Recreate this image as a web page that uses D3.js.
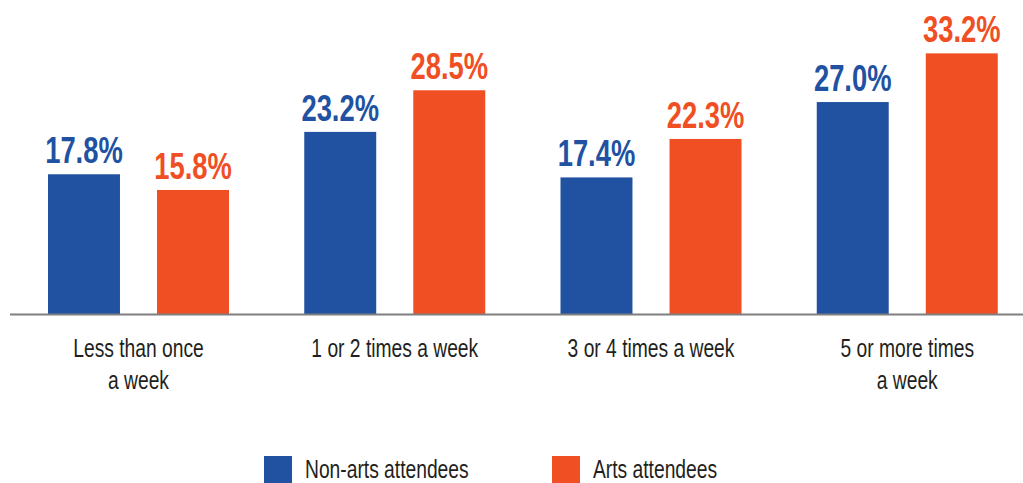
<!DOCTYPE html>
<html>
<head>
<meta charset="utf-8">
<script src="https://cdn.jsdelivr.net/npm/d3@7"></script>
<style>
  body { margin: 0; background: #fff; }
  svg { display: block; font-family: "Liberation Sans", Arial, sans-serif; }
</style>
</head>
<body>
<div id="chart"></div>
<script>
// chart data
const categories = ["Less than once|a week", "1 or 2 times a week", "3 or 4 times a week", "5 or more times|a week"];
const seriesNames = ["Non-arts attendees", "Arts attendees"];
const nonArts = [17.8, 23.2, 17.4, 27.0];
const arts = [15.8, 28.5, 22.3, 33.2];
const colors = ["#2152a2", "#f04e23"];

const width = 1023, height = 483;
const baseY = 314;

const svg = d3.select("#chart")
  .append("svg")
  .attr("width", width)
  .attr("height", height)
  .attr("viewBox", [0, 0, width, height]);

const rows = categories.map((c, i) => ({ cat: c, values: [nonArts[i], arts[i]] }));

// x scales: group and series within group
const x0 = d3.scaleBand()
  .domain(categories)
  .range([10, 1035])
  .padding(0);

const x1 = d3.scaleBand()
  .domain(seriesNames)
  .range([38, 219])
  .paddingInner(0.34)
  .paddingOuter(0);

const groupMid = 38 + (219 - 38) / 2;

// y scale (7.85 px per percent)
const y = d3.scaleLinear()
  .domain([0, 40])
  .range([baseY, baseY - 40 * 7.85]);

const groups = svg.selectAll("g.group")
  .data(rows)
  .enter()
  .append("g")
  .attr("class", "group")
  .attr("transform", (d) => `translate(${x0(d.cat)},0)`);

const cells = (d) => d.values.map((v, j) => ({ key: seriesNames[j], v: v, j: j }));

// bars
groups.selectAll("rect")
  .data(cells)
  .enter()
  .append("rect")
  .attr("x", (d) => x1(d.key))
  .attr("y", (d) => y(d.v))
  .attr("width", x1.bandwidth())
  .attr("height", (d) => y(0) - y(d.v))
  .attr("fill", (d) => colors[d.j]);

// value labels (squeezed sideways to look condensed)
groups.selectAll("text.val")
  .data(cells)
  .enter()
  .append("text")
  .attr("class", "val")
  .attr("transform", (d) => `translate(${x1(d.key) + x1.bandwidth() / 2},${y(d.v) - 11}) scale(0.74,1)`)
  .attr("text-anchor", "middle")
  .attr("font-size", "37px")
  .attr("font-weight", "bold")
  .attr("fill", (d) => colors[d.j])
  .text((d) => d.v.toFixed(1) + "%");

// baseline axis
svg.append("line")
  .attr("x1", 10)
  .attr("x2", width)
  .attr("y1", baseY + 0.5)
  .attr("y2", baseY + 0.5)
  .attr("stroke", "#7f7f7f")
  .attr("stroke-width", 2);

// category labels (split on |)
groups.append("text")
  .attr("transform", `translate(${groupMid},357) scale(0.77,1)`)
  .attr("text-anchor", "middle")
  .attr("font-size", "25px")
  .attr("fill", "#231f20")
  .selectAll("tspan")
  .data((d) => d.cat.split("|"))
  .enter()
  .append("tspan")
  .attr("x", 0)
  .attr("dy", (d, i) => i === 0 ? 0 : 32)
  .text((d) => d);

// legend
const legendX = [264, 552];
const legend = svg.selectAll("g.legend")
  .data(seriesNames)
  .enter()
  .append("g")
  .attr("class", "legend")
  .attr("transform", (d, i) => `translate(${legendX[i]},456)`);

legend.append("rect")
  .attr("width", 28)
  .attr("height", 28)
  .attr("fill", (d, i) => colors[i]);

legend.append("text")
  .attr("transform", "translate(41,22) scale(0.77,1)")
  .attr("font-size", "25px")
  .attr("fill", "#231f20")
  .text((d) => d);
</script>
</body>
</html>
